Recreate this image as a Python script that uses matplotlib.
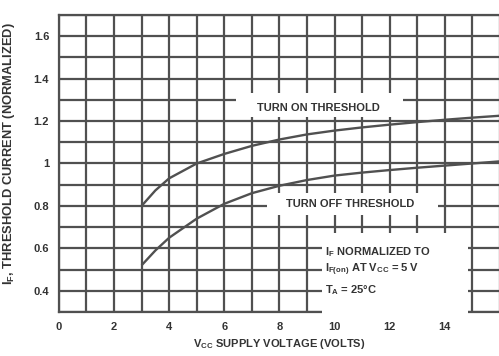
import matplotlib
matplotlib.use("Agg")
import matplotlib.pyplot as plt
from matplotlib.patches import Rectangle

# ---- data ----
on_x = [3, 3.5, 4, 5, 6, 7, 8, 9, 10, 11, 12, 13, 14, 15, 16]
on_y = [0.80, 0.873, 0.93, 1.0, 1.045, 1.083, 1.113, 1.137, 1.155, 1.17, 1.183, 1.195, 1.206, 1.216, 1.225]
off_x = [3, 3.5, 4, 5, 6, 7, 8, 9, 10, 11, 12, 13, 14, 15, 16]
off_y = [0.52, 0.59, 0.65, 0.74, 0.81, 0.86, 0.895, 0.922, 0.943, 0.957, 0.969, 0.98, 0.99, 1.0, 1.01]
xticks = [0, 2, 4, 6, 8, 10, 12, 14]
xticklabels = ["0", "2", "4", "6", "8", "10", "12", "14"]
yticks = [0.4, 0.6, 0.8, 1.0, 1.2, 1.4, 1.6]
yticklabels = ["0.4", "0.6", "0.8", "1", "1.2", "1.4", "1.6"]

FAM = ["Liberation Sans Narrow", "Liberation Sans", "DejaVu Sans"]
plt.rcParams['font.family'] = FAM
plt.rcParams['mathtext.fontset'] = 'custom'
plt.rcParams['mathtext.rm'] = 'Liberation Sans:bold'
plt.rcParams['mathtext.it'] = 'Liberation Sans:bold'
plt.rcParams['mathtext.bf'] = 'Liberation Sans:bold'

GRID = "#505050"
TXT = "#333333"

fig = plt.figure(figsize=(4.99, 3.56), dpi=100)
ax = fig.add_axes([0.118, 0.1236, 0.884, 0.8344])
ax.set_xlim(0, 16)
ax.set_ylim(0.3, 1.7)

# grid
for gx in range(0, 17):
    ax.axvline(gx, color=GRID, lw=1.6, zorder=1)
for i in range(3, 18):
    ax.axhline(i / 10, color=GRID, lw=1.6, zorder=1)

# curves
ax.plot(on_x, on_y, color=GRID, lw=1.7, zorder=3, solid_capstyle='butt')
ax.plot(off_x, off_y, color=GRID, lw=1.7, zorder=3, solid_capstyle='butt')

# white label boxes
ax.add_patch(Rectangle((6.44, 1.22), 6.03, 0.11, facecolor='white', edgecolor='none', zorder=2))
ax.add_patch(Rectangle((7.56, 0.756), 6.19, 0.103, facecolor='white', edgecolor='none', zorder=2))
ax.add_patch(Rectangle((9.53, 0.28), 5.31, 0.392, facecolor='white', edgecolor='none', zorder=4, clip_on=False))

tk = dict(color=TXT, fontweight='bold', fontsize=8)
ax.text(9.4, 1.262, "TURN ON THRESHOLD", ha='center', va='center', zorder=5, **tk)
ax.text(10.55, 0.81, "TURN OFF THRESHOLD", ha='center', va='center', zorder=5, **tk)
ax.text(9.64, 0.583, r"I$_{\mathrm{F}}$ NORMALIZED TO", ha='left', va='center', zorder=5, **tk)
ax.text(9.64, 0.499, r"I$_{\mathrm{F(on)}}$ AT V$_{\mathrm{CC}}$ = 5 V", ha='left', va='center', zorder=5, **tk)
ax.text(9.64, 0.404, r"T$_{\mathrm{A}}$ = 25°C", ha='left', va='center', zorder=5, **tk)

# ticks
ax.set_xticks(xticks)
ax.set_xticklabels(xticklabels)
ax.set_yticks(yticks)
ax.set_yticklabels(yticklabels)
ax.tick_params(length=0, pad=7, labelsize=8, labelcolor=TXT)
for lab in ax.get_xticklabels() + ax.get_yticklabels():
    lab.set_fontweight('bold')

for s in ax.spines.values():
    s.set_color(GRID)
    s.set_linewidth(1.6)
ax.spines['right'].set_visible(False)

ax.set_xlabel(r"V$_{\mathrm{CC}}$ SUPPLY VOLTAGE (VOLTS)", color=TXT, fontweight='bold', fontsize=8, labelpad=4)
ax.set_ylabel(r"I$_{\mathrm{F}}$, THRESHOLD CURRENT (NORMALIZED)", color=TXT, fontweight='bold', fontsize=9.3)
ax.yaxis.set_label_coords(-0.095, 0.534)

fig.savefig("out.png", dpi=100)
